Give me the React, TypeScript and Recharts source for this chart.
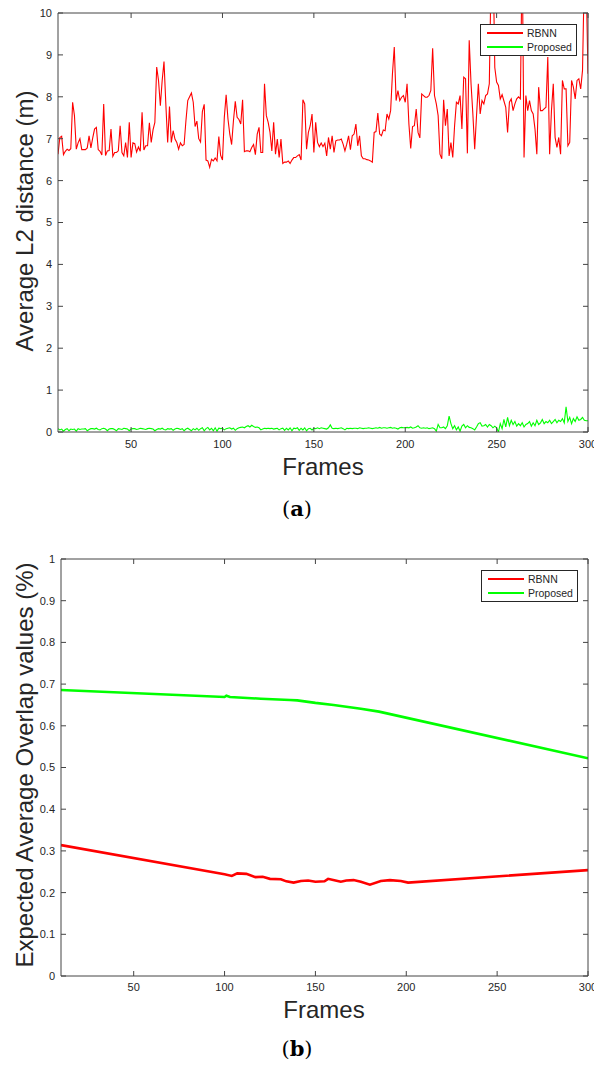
import React from 'react';
import { LineChart, Line, XAxis, YAxis, Legend } from 'recharts';

const FONT = '"Liberation Sans", Arial, Helvetica, sans-serif';
const AX = '#444444';
const TXT = '#262626';
const RED = '#ff0000';
const GREEN = '#00ff00';

// ---------- (a) Average L2 distance ----------
const FIRST_FRAME = 10;
const frameTicks = [50, 100, 150, 200, 250, 300];
const l2Ticks = [0, 1, 2, 3, 4, 5, 6, 7, 8, 9, 10];

const rbnnL2 = [
  6.63, 7.03, 7.06, 6.62, 6.70, 6.75, 6.72, 6.76, 7.87, 7.55,
  6.75, 6.90, 7.00, 6.74, 6.74, 6.74, 6.78, 7.07, 6.78, 7.02,
  7.23, 7.27, 6.74, 6.70, 6.61, 7.83, 6.60, 6.71, 6.72, 7.23,
  6.58, 6.67, 6.67, 6.71, 7.31, 6.67, 6.59, 6.91, 6.55, 7.39,
  6.55, 6.90, 6.88, 6.68, 6.80, 6.70, 7.63, 6.73, 6.83, 6.83,
  7.38, 6.91, 7.21, 7.39, 8.71, 8.39, 7.79, 8.39, 8.84, 7.83,
  6.91, 7.77, 6.91, 7.19, 6.99, 6.91, 6.75, 6.90, 6.83, 6.86,
  7.43, 7.91,
  8.00, 8.09, 7.87, 7.29, 7.42, 7.00, 6.92, 7.65, 7.82, 6.49,
  6.47, 6.32, 6.51, 6.47, 6.54, 6.47, 7.05, 6.60, 6.49, 7.51,
  8.05, 7.47, 7.11, 6.86, 7.43, 7.89, 7.51, 7.46, 7.35, 7.93,
  6.69, 6.71, 6.71, 6.69, 6.79, 6.86, 6.62, 7.11, 7.27, 6.67,
  6.67, 8.31, 7.55, 7.39, 7.15, 6.71, 7.39, 6.63, 6.99, 6.55,
  6.99, 6.41, 6.44, 6.44, 6.47, 6.41, 6.49, 6.55, 6.55, 6.59,
  6.62, 6.49, 7.93, 7.83, 6.75, 7.15, 7.31, 7.59, 6.67, 7.39,
  6.91,
  6.81, 6.90, 6.81, 6.89, 6.59, 7.03, 6.75, 7.07, 6.67, 6.95,
  6.97, 6.97, 6.99, 6.87, 6.71, 6.87, 7.07, 6.74, 7.07, 7.11,
  7.35, 6.83, 7.07, 6.59, 6.52, 6.52, 6.50, 6.49, 6.47,
  6.44, 7.15, 7.17, 7.61, 7.11, 7.07, 7.21, 7.19, 7.59, 7.47,
  7.67, 8.55, 9.19, 7.91, 8.15, 7.91, 7.99, 8.03, 7.87, 8.31,
  7.35, 6.77, 7.29, 7.31, 7.71, 7.15, 7.02, 8.07, 8.03, 7.99,
  7.99, 8.03, 8.15, 9.16, 8.03, 7.83, 7.55, 6.63, 6.52, 7.93,
  7.31, 7.71, 6.59, 6.91, 6.55,
  7.31, 7.87, 7.83, 8.03, 7.23, 8.47, 8.43, 6.65, 9.35, 8.31,
  7.59, 6.75, 7.55, 8.31, 7.59, 7.91, 7.83, 8.03, 8.07, 8.31,
  11.0, 11.5, 8.70, 8.35, 8.27, 7.95, 8.05, 7.90, 7.75, 7.15,
  7.87, 7.95, 7.67, 7.83, 7.95, 8.00, 7.95, 11.5, 6.55, 8.03,
  7.67, 7.91, 7.67, 7.59, 7.23, 6.63, 8.23, 7.67, 7.67, 7.71,
  7.75, 8.95, 6.63, 7.67, 8.31, 7.03, 6.79, 7.03, 6.63, 8.39,
  8.19, 8.19, 6.83, 6.91, 8.39, 8.23, 7.95, 8.39, 8.43, 8.19,
  8.63, 11.0, 10.8, 8.55,
];

const proposedL2 = [
  0.08, 0.05, 0.07, 0.02, 0.06, 0.08, 0.03, 0.07, 0.06, 0.07,
  0.02, 0.08, 0.06, 0.07, 0.07, 0.08, 0.03, 0.06, 0.08, 0.08,
  0.07, 0.09, 0.06, 0.05, 0.08, 0.09, 0.07, 0.03, 0.07, 0.08,
  0.08, 0.06, 0.03, 0.08, 0.07, 0.06, 0.09, 0.08, 0.07, 0.03,
  0.07, 0.08, 0.08, 0.06, 0.07, 0.09, 0.08, 0.07, 0.06, 0.08,
  0.09, 0.08, 0.07, 0.03, 0.06, 0.08, 0.07, 0.09, 0.06, 0.05,
  0.08, 0.07, 0.08, 0.04, 0.07, 0.09, 0.08, 0.06, 0.08, 0.03,
  0.07, 0.09, 0.06, 0.03, 0.08, 0.05, 0.09, 0.04, 0.08, 0.10,
  0.03, 0.08, 0.11, 0.05, 0.09, 0.03, 0.10, 0.02, 0.09, 0.08,
  0.09, 0.05, 0.08, 0.09, 0.10, 0.07, 0.09, 0.04, 0.08, 0.10,
  0.11, 0.12, 0.10, 0.13, 0.15, 0.12, 0.16, 0.13, 0.11, 0.12,
  0.10, 0.05, 0.07, 0.09, 0.08, 0.09, 0.08, 0.09, 0.07, 0.08,
  0.09, 0.05, 0.08, 0.09, 0.04, 0.09, 0.05, 0.10, 0.03, 0.09,
  0.08, 0.10, 0.04, 0.09, 0.05, 0.10, 0.03, 0.08, 0.09, 0.05,
  0.09, 0.08, 0.10, 0.08, 0.10, 0.09, 0.08, 0.07, 0.10, 0.17,
  0.09, 0.08, 0.09, 0.08, 0.09, 0.10, 0.08, 0.05, 0.09, 0.08,
  0.09, 0.08, 0.09, 0.09, 0.08, 0.10, 0.09, 0.08, 0.09, 0.09,
  0.10, 0.09, 0.08, 0.09, 0.10, 0.09, 0.11, 0.09, 0.10, 0.10,
  0.09, 0.10, 0.11, 0.09, 0.10, 0.09, 0.07, 0.10, 0.11, 0.10,
  0.10, 0.11, 0.10, 0.12, 0.09, 0.10, 0.12, 0.15, 0.10, 0.09,
  0.10, 0.09, 0.10, 0.08, 0.09, 0.10, 0.08, 0.02, 0.18, 0.10,
  0.10, 0.12, 0.08, 0.15, 0.38, 0.20, 0.08, 0.15, 0.05, 0.12,
  0.02, 0.14, 0.18, 0.10, 0.15, 0.11, 0.10, 0.08, 0.05, 0.12,
  0.20, 0.22, 0.14, 0.15, 0.18, 0.12, 0.18, 0.15, 0.10, 0.14,
  0.10, 0.00, 0.20, 0.08, 0.30, 0.12, 0.35, 0.15, 0.28, 0.18,
  0.25, 0.14, 0.20, 0.15, 0.22, 0.12, 0.18, 0.20, 0.25, 0.14,
  0.22, 0.15, 0.28, 0.18, 0.22, 0.30, 0.20, 0.25, 0.22, 0.28,
  0.20, 0.25, 0.30, 0.22, 0.28, 0.25, 0.32, 0.22, 0.60, 0.25,
  0.35, 0.20, 0.32, 0.25, 0.36, 0.28, 0.30, 0.35, 0.28, 0.27,
  0.27,
];

// ---------- (b) Expected Average Overlap ----------
const eaoTicks = [0, 0.1, 0.2, 0.3, 0.4, 0.5, 0.6, 0.7, 0.8, 0.9, 1];
const rbnnEAOFrames = [10, 100, 104, 107, 112, 117, 121, 125, 131, 134, 138, 142, 146, 150, 155, 157, 161, 164, 167, 171, 175, 180, 186, 191, 197, 201, 300];
const rbnnEAO = [0.314, 0.244, 0.240, 0.246, 0.245, 0.237, 0.238, 0.233, 0.232, 0.227, 0.224, 0.228, 0.229, 0.226, 0.227, 0.233, 0.229, 0.226, 0.229, 0.230, 0.226, 0.219, 0.228, 0.230, 0.228, 0.224, 0.254];
const proposedEAOFrames = [10, 100, 101, 103, 120, 136, 140, 150, 160, 175, 185, 300];
const proposedEAO = [0.686, 0.669, 0.672, 0.669, 0.665, 0.662, 0.661, 0.655, 0.650, 0.641, 0.634, 0.522];

const l2Rows = rbnnL2.map((v, i) => ({ frame: FIRST_FRAME + i, rbnn: v, proposed: proposedL2[i] }));
const rbnnEAORows = rbnnEAOFrames.map((f, i) => ({ frame: f, value: rbnnEAO[i] }));
const proposedEAORows = proposedEAOFrames.map((f, i) => ({ frame: f, value: proposedEAO[i] }));

const tickStyle = { fontSize: 11, fill: TXT, fontFamily: FONT };
const noLabel = () => <g />;

function makeLegend(lineWidth: number) {
  return () => (
    <div
      style={{
        position: 'relative',
        width: 95,
        height: 30,
        border: '1px solid #262626',
        background: '#fff',
        fontFamily: FONT,
        fontSize: 10.5,
        color: TXT,
      }}
    >
      {[
        { name: 'RBNN', color: RED, top: 8 },
        { name: 'Proposed', color: GREEN, top: 22 },
      ].map((it) => (
        <React.Fragment key={it.name}>
          <div
            style={{
              position: 'absolute',
              left: 6,
              top: it.top - lineWidth / 2,
              width: 36,
              height: lineWidth,
              background: it.color,
            }}
          />
          <div style={{ position: 'absolute', left: 46, top: it.top - 7, lineHeight: '14px', whiteSpace: 'nowrap' }}>
            {it.name}
          </div>
        </React.Fragment>
      ))}
    </div>
  );
}

const textBase: React.CSSProperties = {
  position: 'absolute',
  fontFamily: FONT,
  color: TXT,
  whiteSpace: 'nowrap',
  lineHeight: 1,
};

function RotLabel({ cx, cy, text }: { cx: number; cy: number; text: string }) {
  return (
    <div style={{ ...textBase, left: cx, top: cy, fontSize: 24, transform: 'translate(-50%, -50%) rotate(-90deg)' }}>
      {text}
    </div>
  );
}

function CenterLabel({ cx, cy, text, size }: { cx: number; cy: number; text: string; size: number }) {
  return <div style={{ ...textBase, left: cx, top: cy, fontSize: size, transform: 'translate(-50%, -50%)' }}>{text}</div>;
}

function SubCaption({ cx, cy, letter }: { cx: number; cy: number; letter: string }) {
  return (
    <div
      style={{
        ...textBase,
        left: cx,
        top: cy,
        fontSize: 21,
        color: '#000',
        fontFamily: '"DejaVu Serif", "Liberation Serif", serif',
        transform: 'translate(-50%, -50%)',
      }}
    >
      (<b>{letter}</b>)
    </div>
  );
}

export default function App() {
  return (
    <div style={{ position: 'absolute', left: 0, top: 0, width: 594, height: 1068, background: '#fff', overflow: 'hidden' }}>
      <div style={{ position: 'absolute', left: 0, top: 0 }}>
        <LineChart width={594} height={480} data={l2Rows} margin={{ top: 12, right: 5, bottom: 18, left: 8 }}>
          <XAxis
            xAxisId="b"
            dataKey="frame"
            type="number"
            domain={[10, 300]}
            ticks={frameTicks}
            interval={0}
            height={30}
            tickSize={-5}
            tickMargin={13}
            stroke={AX}
            tick={tickStyle}
            allowDataOverflow
          />
          <XAxis
            xAxisId="t"
            dataKey="frame"
            type="number"
            orientation="top"
            domain={[10, 300]}
            ticks={frameTicks}
            interval={0}
            height={1}
            tickSize={-5}
            tick={noLabel}
            stroke={AX}
            allowDataOverflow
          />
          <YAxis
            yAxisId="l"
            type="number"
            domain={[0, 10]}
            ticks={l2Ticks}
            interval={0}
            width={50}
            tickSize={-5}
            tickMargin={11}
            stroke={AX}
            tick={tickStyle}
            allowDataOverflow
          />
          <YAxis
            yAxisId="r"
            type="number"
            orientation="right"
            domain={[0, 10]}
            ticks={l2Ticks}
            interval={0}
            width={1}
            tickSize={-5}
            tick={noLabel}
            stroke={AX}
            allowDataOverflow
          />
          <Legend
            layout="vertical"
            align="center"
            verticalAlign="middle"
            content={makeLegend(1.5)}
            wrapperStyle={{ position: 'absolute', left: 480, top: 24, width: 97, height: 32 }}
          />
          <Line xAxisId="b" yAxisId="l" type="linear" dataKey="rbnn" name="RBNN" stroke={RED} strokeWidth={1.1} dot={false} isAnimationActive={false} />
          <Line xAxisId="b" yAxisId="l" type="linear" dataKey="proposed" name="Proposed" stroke={GREEN} strokeWidth={1.1} dot={false} isAnimationActive={false} />
        </LineChart>
      </div>
      <RotLabel cx={25} cy={221} text="Average L2 distance (m)" />
      <CenterLabel cx={323} cy={467} text="Frames" size={24} />
      <SubCaption cx={297} cy={509} letter="a" />

      <div style={{ position: 'absolute', left: 0, top: 530 }}>
        <LineChart width={594} height={500} margin={{ top: 28, right: 5, bottom: 24, left: 8 }}>
          <XAxis
            xAxisId="b"
            dataKey="frame"
            type="number"
            domain={[10, 300]}
            ticks={frameTicks}
            interval={0}
            height={30}
            tickSize={-5}
            tickMargin={12}
            stroke={AX}
            tick={tickStyle}
            allowDataOverflow
          />
          <XAxis
            xAxisId="t"
            dataKey="frame"
            type="number"
            orientation="top"
            domain={[10, 300]}
            ticks={frameTicks}
            interval={0}
            height={1}
            tickSize={-5}
            tick={noLabel}
            stroke={AX}
            allowDataOverflow
          />
          <YAxis
            yAxisId="l"
            type="number"
            domain={[0, 1]}
            ticks={eaoTicks}
            interval={0}
            width={53}
            tickSize={-5}
            tickMargin={11}
            stroke={AX}
            tick={tickStyle}
            allowDataOverflow
          />
          <YAxis
            yAxisId="r"
            type="number"
            orientation="right"
            domain={[0, 1]}
            ticks={eaoTicks}
            interval={0}
            width={1}
            tickSize={-5}
            tick={noLabel}
            stroke={AX}
            allowDataOverflow
          />
          <Legend
            layout="vertical"
            align="center"
            verticalAlign="middle"
            content={makeLegend(2.5)}
            wrapperStyle={{ position: 'absolute', left: 481, top: 40, width: 97, height: 32 }}
          />
          <Line xAxisId="b" yAxisId="l" data={rbnnEAORows} type="linear" dataKey="value" name="RBNN" stroke={RED} strokeWidth={2.6} dot={false} isAnimationActive={false} />
          <Line xAxisId="b" yAxisId="l" data={proposedEAORows} type="linear" dataKey="value" name="Proposed" stroke={GREEN} strokeWidth={2.6} dot={false} isAnimationActive={false} />
        </LineChart>
      </div>
      <RotLabel cx={25} cy={765} text="Expected Average Overlap values (%)" />
      <CenterLabel cx={324} cy={1010} text="Frames" size={24} />
      <SubCaption cx={297} cy={1049} letter="b" />
    </div>
  );
}
